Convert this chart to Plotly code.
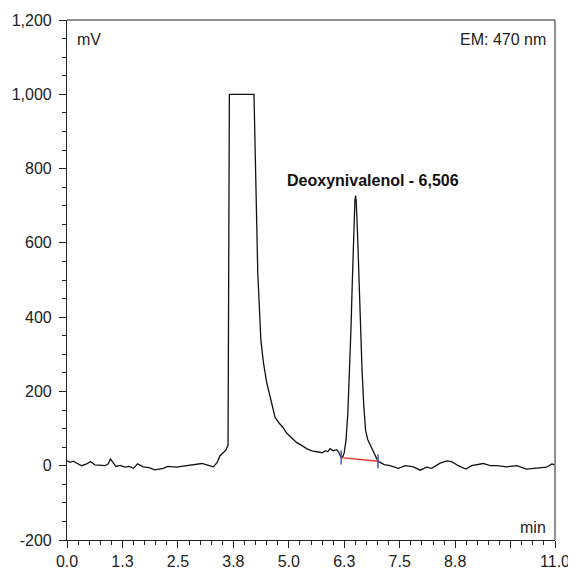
import plotly.graph_objects as go

# ---- data ----
rt_min = [0.00, 0.07, 0.14, 0.22, 0.33, 0.43, 0.53, 0.63, 0.75, 0.86, 0.93, 0.98, 1.04, 1.10,
          1.20, 1.31, 1.40, 1.50, 1.59, 1.65, 1.72, 1.85, 1.98, 2.08, 2.17, 2.27, 2.36, 2.47,
          2.58, 2.70, 2.80, 2.92, 3.04, 3.15, 3.30, 3.38, 3.45, 3.52, 3.58, 3.63, 3.66,
          4.215, 4.26, 4.30, 4.37, 4.43, 4.50, 4.58, 4.69, 4.78, 4.87, 4.95, 5.07, 5.18,
          5.30, 5.40, 5.52, 5.62, 5.68, 5.75, 5.82, 5.88, 5.93, 6.00, 6.08, 6.13, 6.18,
          6.22, 6.25, 6.29, 6.33, 6.37, 6.40, 6.43, 6.46, 6.49, 6.506, 6.52, 6.55, 6.58,
          6.62, 6.65, 6.69, 6.73, 6.78, 6.84, 6.90, 6.95, 7.01, 7.06, 7.15, 7.28, 7.47,
          7.62, 7.81, 7.96, 8.11, 8.22, 8.41, 8.56, 8.67, 8.82, 8.99, 9.12, 9.25, 9.38,
          9.54, 9.69, 9.91, 10.14, 10.36, 10.59, 10.81, 10.93, 11.00]
signal_mv = [13, 9, 12, 6, 0, 4, 11, 2, 1, 0, 5, 18, 8, -2,
             1, -4, -2, -7, 5, 2, -3, -5, -11, -9, -7, -2, -3, -4,
             -2, 0, 2, 5, 6, 2, -3, 8, 27, 35, 42, 55, 1000,
             1000, 716, 520, 338, 276, 225, 184, 130, 115, 103, 88, 73, 62,
             54, 46, 40, 38, 36, 35, 40, 38, 46, 40, 43, 35, 22,
             25, 35, 70, 140, 250, 365, 490, 630, 715, 727, 710, 620, 500,
             365, 260, 160, 95, 70, 55, 40, 25, 12, 9, 3, 0, -7,
             0, -3, -12, -4, -7, 7, 13, 11, 0, -9, 0, 4, 6,
             0, 0, -3, 0, -9, -7, -4, 5, 2]

baseline_t = [6.18, 7.01]
baseline_mv = [22, 12]

peak_rt = 6.506
peak_height = 727
peak_label = "Deoxynivalenol - 6,506"

x_tickvals = [0, 1.25, 2.5, 3.75, 5.0, 6.25, 7.5, 8.75, 10.0, 11.0]
x_ticktext = ["0.0", "1.3", "2.5", "3.8", "5.0", "6.3", "7.5", "8.8", "", "11.0"]
y_tickvals = [-200, 0, 200, 400, 600, 800, 1000, 1200]
y_ticktext = ["-200", "0", "200", "400", "600", "800", "1,000", "1,200"]

FONT = "Liberation Sans, Arial, sans-serif"

fig = go.Figure()
fig.add_trace(go.Scatter(x=rt_min, y=signal_mv, mode="lines",
                         line=dict(color="#111111", width=1.3), showlegend=False,
                         hoverinfo="skip"))
fig.add_trace(go.Scatter(x=baseline_t, y=baseline_mv, mode="lines",
                         line=dict(color="#e8352c", width=1.3), showlegend=False,
                         hoverinfo="skip"))
fig.add_trace(go.Scatter(x=baseline_t, y=baseline_mv, mode="markers",
                         marker=dict(symbol="line-ns-open", size=10, color="#3a5cc4",
                                     line=dict(color="#3a5cc4", width=1.5)),
                         showlegend=False, hoverinfo="skip"))

fig.add_annotation(x=peak_rt, y=peak_height, text="<b>" + peak_label + "</b>", showarrow=False,
                   xanchor="center", yanchor="bottom", yshift=5, xshift=17,
                   font=dict(family=FONT, size=16, color="#111111"))
fig.add_annotation(xref="paper", yref="paper", x=0.016, y=0.962, text="mV", showarrow=False,
                   xanchor="left", yanchor="middle", font=dict(family=FONT, size=16, color="#222"))
fig.add_annotation(xref="paper", yref="paper", x=0.986, y=0.962, text="EM: 470 nm", showarrow=False,
                   xanchor="right", yanchor="middle", font=dict(family=FONT, size=16, color="#222"))
fig.add_annotation(xref="paper", yref="paper", x=0.986, y=0.025, text="min", showarrow=False,
                   xanchor="right", yanchor="middle", font=dict(family=FONT, size=16, color="#222"))

# top and right frame lines
fig.add_shape(type="line", xref="paper", yref="paper", x0=0, x1=1, y0=1, y1=1,
              line=dict(color="#6a6a6a", width=1.5))
fig.add_shape(type="line", xref="paper", yref="paper", x0=1, x1=1, y0=0, y1=1,
              line=dict(color="#6a6a6a", width=1.5))

fig.update_xaxes(range=[0, 11], tickvals=x_tickvals, ticktext=x_ticktext, automargin=False,
                 ticks="outside", ticklen=7, tickwidth=1, tickcolor="#222",
                 showline=True, linecolor="#222", linewidth=1.2, showgrid=False, zeroline=False,
                 tickfont=dict(family=FONT, size=16, color="#222"),
                 minor=dict(tickmode="linear", tick0=0, dtick=0.25, ticks="outside",
                            ticklen=4, tickcolor="#222", showgrid=False))
fig.update_yaxes(range=[-200, 1200], tickvals=y_tickvals, ticktext=y_ticktext, automargin=False,
                 ticks="outside", ticklen=7, tickwidth=1, tickcolor="#222",
                 showline=True, linecolor="#222", linewidth=1.2, showgrid=False, zeroline=False,
                 ticklabelstandoff=4,
                 tickfont=dict(family=FONT, size=16, color="#222"),
                 minor=dict(tickmode="linear", tick0=0, dtick=50, ticks="outside",
                            ticklen=4, tickcolor="#222", showgrid=False))

# page body adds an 8px offset; size/margins chosen so plot area lands at x 67-555, y 20-540
fig.update_layout(width=568, height=563, margin=dict(l=59, r=21, t=12, b=31),
                  plot_bgcolor="white", paper_bgcolor="white",
                  font=dict(family=FONT, size=16, color="#222"))

fig.write_html("out.html")
